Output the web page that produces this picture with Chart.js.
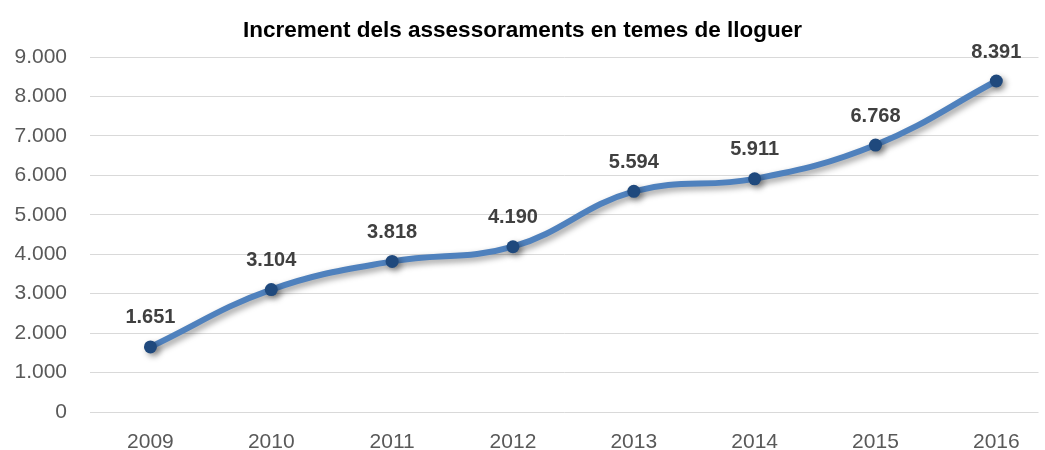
<!DOCTYPE html>
<html lang="ca">
<head>
<meta charset="UTF-8">
<title>Increment dels assessoraments</title>
<script src="https://cdn.jsdelivr.net/npm/chart.js"></script>
<style>
  html, body { margin: 0; padding: 0; background: #fff; }
  #wrap { width: 1045px; height: 450px; }
</style>
</head>
<body>
<div id="wrap"><canvas id="lineChart"></canvas></div>
<script>
// data
const years = [2009, 2010, 2011, 2012, 2013, 2014, 2015, 2016];
const assessoraments = [1651, 3104, 3818, 4190, 5594, 5911, 6768, 8391];
const yTicks = [0, 1000, 2000, 3000, 4000, 5000, 6000, 7000, 8000, 9000];
const chartTitle = 'Increment dels assessoraments en temes de lloguer';

const fmt = v => v.toLocaleString('de-DE');
const FONT = '"Liberation Sans", Arial, sans-serif';

// draw values above the points
const valueLabels = {
  id: 'valueLabels',
  afterDatasetsDraw(chart) {
    const ctx = chart.ctx;
    const meta = chart.getDatasetMeta(0);
    ctx.save();
    ctx.font = 'bold 20px ' + FONT;
    ctx.fillStyle = '#404040';
    ctx.textAlign = 'center';
    ctx.textBaseline = 'middle';
    meta.data.forEach((pt, i) => {
      ctx.fillText(fmt(assessoraments[i]), pt.x, pt.y - 29);
    });
    ctx.restore();
  }
};

// soft shadow under the line
const lineShadow = {
  id: 'lineShadow',
  beforeDatasetDraw(chart) {
    const ctx = chart.ctx;
    ctx.save();
    ctx.shadowColor = 'rgba(0,0,0,0.4)';
    ctx.shadowBlur = 6;
    ctx.shadowOffsetX = 3;
    ctx.shadowOffsetY = 3;
  },
  afterDatasetDraw(chart) {
    chart.ctx.restore();
  }
};

document.addEventListener('DOMContentLoaded', () => {
  const ctx = document.getElementById('lineChart').getContext('2d');
  new Chart(ctx, {
    type: 'line',
    data: {
      datasets: [{
        label: 'Assessoraments',
        data: years.map((y, i) => ({ x: y, y: assessoraments[i] })),
        borderColor: '#4F81BD',
        borderWidth: 6,
        tension: 0.4,
        pointRadius: 6.5,
        pointBackgroundColor: '#1F497D',
        pointBorderColor: '#1F497D',
        pointBorderWidth: 0,
        clip: false
      }]
    },
    plugins: [lineShadow, valueLabels],
    options: {
      responsive: true,
      maintainAspectRatio: false,
      animation: false,
      layout: { padding: { left: 0, right: 0, top: 0, bottom: 0 } },
      plugins: {
        legend: { display: false },
        tooltip: { enabled: false },
        title: {
          display: true,
          text: chartTitle,
          color: '#000',
          font: { family: FONT, size: 22.5, weight: 'bold' },
          padding: { top: 17, bottom: 13 }
        }
      },
      scales: {
        x: {
          type: 'linear',
          min: 2008.5,
          max: 2016.349,
          grid: { display: false },
          border: { display: false },
          afterBuildTicks: scale => { scale.ticks = years.map(v => ({ value: v })); },
          afterFit: scale => { scale.height = 38; },
          ticks: {
            color: '#595959',
            padding: 10,
            maxRotation: 0,
            font: { family: FONT, size: 21 },
            callback: v => String(v)
          }
        },
        y: {
          min: 0,
          max: 9000,
          afterBuildTicks: scale => { scale.ticks = yTicks.map(v => ({ value: v })); },
          afterFit: scale => { scale.width = 90; },
          grid: { color: '#d9d9d9', lineWidth: 1, drawTicks: false },
          border: { display: false },
          ticks: {
            color: '#595959',
            padding: 23,
            font: { family: FONT, size: 21 },
            callback: v => fmt(v)
          }
        }
      }
    }
  });
});
</script>
</body>
</html>
